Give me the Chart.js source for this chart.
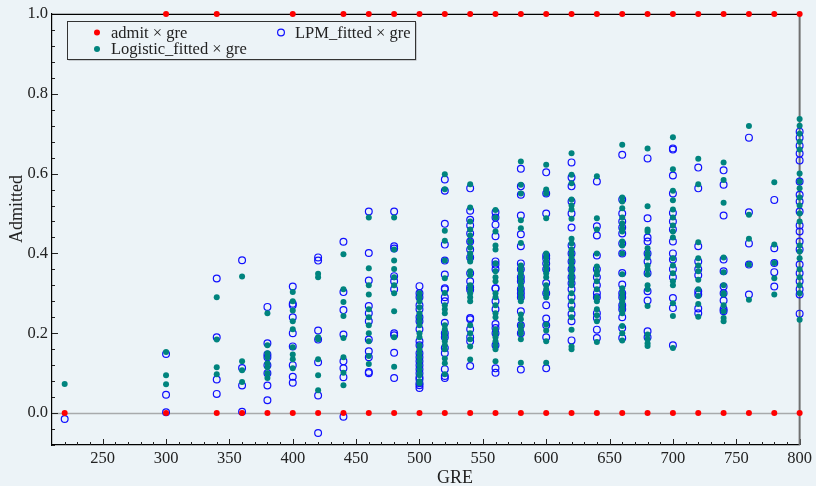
<!DOCTYPE html>
<html>
<head>
<meta charset="utf-8">
<script src="https://cdn.jsdelivr.net/npm/chart.js@4/dist/chart.umd.min.js"></script>
<style>
  html, body { margin: 0; padding: 0; background: #ecf3f7; }
  #wrap { width: 816px; height: 486px; }
</style>
</head>
<body>
<div id="wrap"><canvas id="c" width="816" height="486"></canvas></div>
<script>
// GRE score groups and the fitted probabilities observed at each score
const greLevels = [220, 300, 340, 360, 380, 400, 420, 440, 460, 480, 500, 520, 540,
                   560, 580, 600, 620, 640, 660, 680, 700, 720, 740, 760, 780, 800];

const logisticFitted = [
  [0.073],
  [0.153, 0.095, 0.072],
  [0.29, 0.184, 0.115, 0.097],
  [0.342, 0.13, 0.107, 0.078],
  [0.25, 0.17, 0.15, 0.14, 0.125, 0.115, 0.1, 0.088],
  [0.303, 0.28, 0.257, 0.23, 0.21, 0.165, 0.147, 0.135, 0.112],
  [0.349, 0.34, 0.19, 0.185, 0.135, 0.095, 0.057],
  [0.398, 0.31, 0.278, 0.243, 0.188, 0.14, 0.101, 0.07],
  [0.49, 0.363, 0.32, 0.297, 0.26, 0.24, 0.22, 0.2, 0.18, 0.143, 0.123],
  [0.49, 0.41, 0.382, 0.361, 0.34, 0.32, 0.3, 0.255, 0.19, 0.116],
  [0.3, 0.29, 0.28, 0.265, 0.25, 0.24, 0.23, 0.22, 0.2, 0.19, 0.17, 0.16, 0.15, 0.14, 0.13, 0.12, 0.11, 0.1, 0.095, 0.08, 0.075],
  [0.598, 0.561, 0.457, 0.432, 0.382, 0.338, 0.301, 0.27, 0.26, 0.25, 0.22, 0.21, 0.2, 0.19, 0.18, 0.17, 0.16, 0.137, 0.125, 0.097],
  [0.573, 0.515, 0.48, 0.46, 0.445, 0.43, 0.415, 0.4, 0.39, 0.38, 0.355, 0.345, 0.32, 0.31, 0.3, 0.29, 0.28, 0.22, 0.2, 0.185, 0.167, 0.134],
  [0.509, 0.49, 0.455, 0.42, 0.41, 0.375, 0.355, 0.34, 0.33, 0.3, 0.29, 0.27, 0.25, 0.24, 0.21, 0.2, 0.19, 0.18, 0.17, 0.16, 0.13],
  [0.63, 0.572, 0.55, 0.483, 0.463, 0.426, 0.37, 0.36, 0.35, 0.34, 0.33, 0.32, 0.31, 0.3, 0.29, 0.28, 0.247, 0.235, 0.22, 0.21, 0.2, 0.185, 0.126],
  [0.622, 0.56, 0.55, 0.488, 0.4, 0.39, 0.38, 0.37, 0.36, 0.35, 0.34, 0.32, 0.31, 0.3, 0.29, 0.222, 0.207, 0.18, 0.126],
  [0.651, 0.597, 0.576, 0.535, 0.52, 0.51, 0.487, 0.437, 0.425, 0.41, 0.4, 0.39, 0.38, 0.37, 0.36, 0.35, 0.34, 0.33, 0.32, 0.3, 0.28, 0.26, 0.24, 0.209, 0.167, 0.16],
  [0.593, 0.488, 0.46, 0.4, 0.367, 0.355, 0.347, 0.33, 0.31, 0.29, 0.28, 0.26, 0.245, 0.23, 0.178],
  [0.672, 0.54, 0.53, 0.513, 0.49, 0.475, 0.463, 0.455, 0.43, 0.42, 0.4, 0.348, 0.313, 0.3, 0.29, 0.28, 0.27, 0.26, 0.25, 0.218, 0.2, 0.182],
  [0.663, 0.518, 0.46, 0.455, 0.413, 0.4, 0.39, 0.37, 0.36, 0.347, 0.32, 0.31, 0.268, 0.197, 0.185, 0.175, 0.168],
  [0.691, 0.611, 0.557, 0.533, 0.51, 0.49, 0.47, 0.455, 0.44, 0.388, 0.37, 0.35, 0.33, 0.32, 0.275, 0.243, 0.163],
  [0.637, 0.573, 0.428, 0.388, 0.37, 0.355, 0.334, 0.31, 0.293, 0.273, 0.241],
  [0.628, 0.584, 0.527, 0.39, 0.353, 0.32, 0.3, 0.297, 0.27, 0.255, 0.238, 0.23],
  [0.719, 0.497, 0.437, 0.372, 0.284],
  [0.578, 0.422, 0.376, 0.338, 0.297],
  [0.737, 0.72, 0.7, 0.68, 0.66, 0.6, 0.58, 0.563, 0.54, 0.52, 0.5, 0.48, 0.42, 0.405, 0.388, 0.36, 0.34, 0.32, 0.3, 0.234]
];

const lpmFitted = [
  [-0.015],
  [0.148, 0.046, 0.002],
  [0.337, 0.19, 0.084, 0.048],
  [0.383, 0.113, 0.069, 0.003],
  [0.266, 0.175, 0.147, 0.14, 0.12, 0.1, 0.069, 0.032],
  [0.317, 0.274, 0.27, 0.24, 0.2, 0.167, 0.12, 0.091, 0.076],
  [0.39, 0.382, 0.207, 0.184, 0.127, 0.044, -0.05],
  [0.429, 0.303, 0.258, 0.197, 0.13, 0.112, 0.09, -0.009],
  [0.505, 0.401, 0.332, 0.268, 0.25, 0.23, 0.184, 0.155, 0.14, 0.103, 0.1],
  [0.505, 0.418, 0.412, 0.343, 0.33, 0.31, 0.2, 0.195, 0.151, 0.088],
  [0.318, 0.3, 0.29, 0.27, 0.26, 0.24, 0.23, 0.21, 0.18, 0.17, 0.15, 0.14, 0.13, 0.12, 0.11, 0.1, 0.09, 0.085, 0.075, 0.07, 0.063],
  [0.585, 0.557, 0.474, 0.422, 0.382, 0.347, 0.313, 0.31, 0.29, 0.28, 0.226, 0.2, 0.19, 0.163, 0.15, 0.11, 0.093, 0.088],
  [0.563, 0.507, 0.484, 0.47, 0.45, 0.43, 0.41, 0.39, 0.35, 0.33, 0.315, 0.309, 0.238, 0.235, 0.21, 0.19, 0.18, 0.118],
  [0.503, 0.49, 0.472, 0.443, 0.38, 0.372, 0.36, 0.313, 0.312, 0.28, 0.26, 0.223, 0.213, 0.2, 0.17, 0.112, 0.101],
  [0.612, 0.568, 0.547, 0.495, 0.448, 0.418, 0.375, 0.36, 0.34, 0.33, 0.31, 0.3, 0.29, 0.255, 0.22, 0.2, 0.109],
  [0.603, 0.55, 0.5, 0.395, 0.387, 0.375, 0.36, 0.326, 0.3, 0.27, 0.237, 0.22, 0.19, 0.112],
  [0.628, 0.59, 0.568, 0.53, 0.5, 0.465, 0.42, 0.4, 0.38, 0.36, 0.34, 0.325, 0.31, 0.29, 0.27, 0.248, 0.23, 0.182],
  [0.58, 0.468, 0.445, 0.395, 0.36, 0.34, 0.32, 0.3, 0.29, 0.25, 0.238, 0.209, 0.188],
  [0.647, 0.535, 0.5, 0.48, 0.465, 0.45, 0.425, 0.4, 0.351, 0.322, 0.3, 0.29, 0.27, 0.26, 0.24, 0.213, 0.188],
  [0.638, 0.488, 0.44, 0.43, 0.4, 0.38, 0.35, 0.305, 0.282, 0.205, 0.19],
  [0.663, 0.66, 0.595, 0.55, 0.501, 0.48, 0.46, 0.43, 0.4, 0.385, 0.36, 0.34, 0.288, 0.263, 0.17],
  [0.615, 0.563, 0.418, 0.38, 0.36, 0.345, 0.305, 0.297, 0.262, 0.25],
  [0.608, 0.572, 0.495, 0.385, 0.355, 0.317, 0.3, 0.282, 0.26, 0.255],
  [0.69, 0.503, 0.425, 0.372, 0.297],
  [0.534, 0.413, 0.376, 0.353, 0.317],
  [0.705, 0.69, 0.67, 0.65, 0.633, 0.58, 0.547, 0.53, 0.505, 0.47, 0.455, 0.43, 0.41, 0.372, 0.35, 0.33, 0.31, 0.297, 0.249]
];

// GRE scores with at least one rejected / one admitted applicant
const admitZeroGre = [220, 300, 340, 360, 380, 400, 420, 440, 460, 480, 500, 520, 540, 560,
                      580, 600, 620, 640, 660, 680, 700, 720, 740, 760, 780, 800];
const admitOneGre = [300, 340, 400, 440, 460, 480, 500, 520, 540, 560, 580, 600, 620,
                     640, 660, 680, 700, 720, 740, 760, 780, 800];

const xTickValues = [250, 300, 350, 400, 450, 500, 550, 600, 650, 700, 750, 800];
const yTickValues = [0, 0.2, 0.4, 0.6, 0.8, 1.0];

const seriesLabels = ['admit \u00d7 gre', 'Logistic_fitted \u00d7 gre', 'LPM_fitted \u00d7 gre'];

const RED = '#ff0000';
const TEAL = '#00847e';
const BLUE = '#1010ff';
const INK = '#222222';
const BG = '#ecf3f7';
const SERIF = '"Liberation Serif", "Times New Roman", serif';

function columnPoints(levels, groups) {
  const pts = [];
  levels.forEach((g, i) => groups[i].forEach(v => pts.push({ x: g, y: v })));
  return pts;
}

const admitPoints = admitZeroGre.map(g => ({ x: g, y: 0 }))
  .concat(admitOneGre.map(g => ({ x: g, y: 1 })));

// Frame, inward ticks, zero line, legend box and axis titles
const framePlugin = {
  id: 'frame',
  beforeDatasetsDraw(chart) {
    const { ctx, chartArea: a, scales: { x, y } } = chart;
    ctx.save();
    // zero reference line
    const y0 = Math.round(y.getPixelForValue(0)) + 0.5;
    ctx.strokeStyle = '#a8aaac';
    ctx.lineWidth = 1.5;
    ctx.beginPath(); ctx.moveTo(a.left, y0); ctx.lineTo(a.right, y0); ctx.stroke();

    ctx.strokeStyle = INK;
    ctx.lineWidth = 1;
    // x ticks: majors every 50, minors every 10
    for (let v = 220; v <= 800; v += 10) {
      const px = Math.round(x.getPixelForValue(v)) + 0.5;
      const len = (v % 50 === 0) ? 6 : 3;
      ctx.beginPath(); ctx.moveTo(px, a.bottom); ctx.lineTo(px, a.bottom - len); ctx.stroke();
    }
    // y ticks: majors every 0.2, minors every 0.04
    for (let k = -2; k <= 25; k++) {
      const v = k * 0.04;
      const py = Math.round(y.getPixelForValue(v)) + 0.5;
      const len = (k % 5 === 0) ? 6 : 3;
      ctx.beginPath(); ctx.moveTo(a.left, py); ctx.lineTo(a.left + len, py); ctx.stroke();
    }
    // top edge
    ctx.strokeStyle = '#000';
    ctx.lineWidth = 1.2;
    ctx.beginPath(); ctx.moveTo(a.left, a.top + 0.5); ctx.lineTo(a.right, a.top + 0.5); ctx.stroke();
    // right edge
    ctx.strokeStyle = '#707070';
    ctx.lineWidth = 2;
    ctx.beginPath(); ctx.moveTo(a.right, a.top); ctx.lineTo(a.right, a.bottom); ctx.stroke();
    ctx.restore();
  },
  afterDatasetsDraw(chart) {
    const { ctx } = chart;
    const ds = chart.data.datasets;
    ctx.save();
    // legend box with soft shadow
    const bx = 67, by = 21, bw = 348, bh = 38;
    ctx.fillStyle = '#a0a4a8';
    ctx.fillRect(bx + 1.5, by + 1.5, bw, bh);
    ctx.fillStyle = BG;
    ctx.fillRect(bx, by, bw, bh);
    ctx.strokeStyle = '#333';
    ctx.lineWidth = 1;
    ctx.strokeRect(bx + 0.5, by + 0.5, bw, bh);

    ctx.font = '16.5px ' + SERIF;
    ctx.textBaseline = 'middle';
    ctx.textAlign = 'left';
    const entries = [
      { i: 0, mx: 97, my: 32.5, tx: 111 },
      { i: 1, mx: 97, my: 49, tx: 111 },
      { i: 2, mx: 281, my: 32.5, tx: 295 }
    ];
    entries.forEach(e => {
      const d = ds[e.i];
      ctx.beginPath();
      ctx.arc(e.mx, e.my, d.pointRadius, 0, Math.PI * 2);
      if (d.pointBackgroundColor !== 'transparent') {
        ctx.fillStyle = d.pointBackgroundColor; ctx.fill();
      } else {
        ctx.strokeStyle = d.pointBorderColor; ctx.lineWidth = d.pointBorderWidth; ctx.stroke();
      }
      ctx.fillStyle = INK;
      ctx.fillText(d.label, e.tx, e.my + 1);
    });
    ctx.restore();
  },
  afterDraw(chart) {
    const { ctx } = chart;
    ctx.save();
    ctx.fillStyle = INK;
    ctx.font = '18px ' + SERIF;
    ctx.textAlign = 'center';
    ctx.textBaseline = 'middle';
    ctx.fillText('GRE', 455, 478);
    ctx.translate(17, 209);
    ctx.rotate(-Math.PI / 2);
    ctx.fillText('Admitted', 0, 0);
    ctx.restore();
  }
};

new Chart(document.getElementById('c'), {
  type: 'scatter',
  data: {
    datasets: [
      {
        label: seriesLabels[0],
        data: admitPoints,
        pointRadius: 3,
        pointBackgroundColor: RED,
        pointBorderColor: RED,
        pointBorderWidth: 0,
        clip: false
      },
      {
        label: seriesLabels[1],
        data: columnPoints(greLevels, logisticFitted),
        pointRadius: 3,
        pointBackgroundColor: TEAL,
        pointBorderColor: TEAL,
        pointBorderWidth: 0,
        clip: false
      },
      {
        label: seriesLabels[2],
        data: columnPoints(greLevels, lpmFitted),
        pointRadius: 3.4,
        pointBackgroundColor: 'transparent',
        pointBorderColor: BLUE,
        pointBorderWidth: 1.2,
        clip: false
      }
    ]
  },
  options: {
    responsive: false,
    animation: false,
    devicePixelRatio: 1,
    layout: { padding: { top: 12, right: 15, left: 0, bottom: 0 } },
    plugins: { legend: { display: false }, tooltip: { enabled: false } },
    scales: {
      x: {
        type: 'linear',
        min: 210,
        max: 800,
        afterBuildTicks: s => { s.ticks = xTickValues.map(v => ({ value: v })); },
        afterFit: s => { s.height = 41; },
        grid: { display: false, drawTicks: false },
        border: { display: true, color: '#000', width: 1.2 },
        ticks: {
          color: INK,
          font: { family: SERIF, size: 16.5 },
          padding: 4,
          maxRotation: 0,
          autoSkip: false,
          callback: v => String(v)
        }
      },
      y: {
        type: 'linear',
        min: -0.08,
        max: 1.0,
        afterBuildTicks: s => { s.ticks = yTickValues.map(v => ({ value: v })); },
        afterFit: s => { s.width = 52; },
        grid: { display: false, drawTicks: false },
        border: { display: true, color: '#000', width: 1.2 },
        ticks: {
          color: INK,
          font: { family: SERIF, size: 16.5 },
          padding: 4,
          autoSkip: false,
          callback: v => v.toFixed(1)
        }
      }
    }
  },
  plugins: [framePlugin]
});
</script>
</body>
</html>
